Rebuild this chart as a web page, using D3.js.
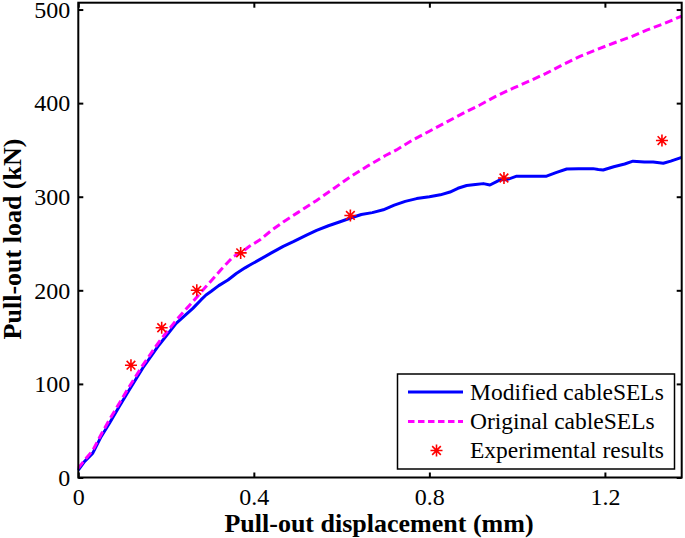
<!DOCTYPE html>
<html>
<head>
<meta charset="utf-8">
<script src="https://cdn.jsdelivr.net/npm/d3@7"></script>
<style>
  body { margin: 0; background: #fff; }
  svg { display: block; font-family: "Liberation Serif", "Times New Roman", "DejaVu Serif", serif; }
</style>
</head>
<body>
<div id="chart"></div>
<script>
// chart data
const modX = [0, 0.014, 0.033, 0.052, 0.071, 0.093, 0.116, 0.147, 0.184, 0.223, 0.261, 0.28, 0.291, 0.303, 0.32, 0.341, 0.36, 0.38, 0.391, 0.414, 0.44, 0.467, 0.49, 0.52, 0.543, 0.57, 0.595, 0.619, 0.645, 0.67, 0.695, 0.72, 0.745, 0.771, 0.80, 0.825, 0.847, 0.865, 0.885, 0.905, 0.923, 0.938, 0.961, 0.975, 0.999, 1.03, 1.067, 1.09, 1.113, 1.14, 1.173, 1.185, 1.196, 1.22, 1.245, 1.264, 1.29, 1.31, 1.333, 1.35, 1.375];
const modY = [8, 17, 26, 43.6, 58, 75.6, 93.5, 117, 141.6, 164.7, 180.7, 190, 195, 199, 205, 211, 218, 224, 227, 233, 240, 247, 252, 259, 264, 269, 273, 277, 281, 283, 286, 291, 295, 298, 300, 302, 305, 309, 312, 313, 314, 312.5, 318, 318, 322, 322, 322, 326, 329.6, 330, 330, 329, 328.5, 332, 335, 338, 337, 337, 335.7, 338, 342];

const origX = [0, 0.015, 0.033, 0.052, 0.07, 0.093, 0.116, 0.147, 0.184, 0.223, 0.261, 0.291, 0.325, 0.353, 0.37, 0.39, 0.414, 0.44, 0.467, 0.50, 0.543, 0.58, 0.619, 0.66, 0.70, 0.725, 0.76, 0.80, 0.84, 0.88, 0.915, 0.95, 0.991, 1.03, 1.067, 1.10, 1.143, 1.18, 1.219, 1.26, 1.295, 1.335, 1.375];
const origY = [10, 19, 29, 46, 61, 79, 97, 120, 145, 168, 188, 204, 222, 236, 240, 247, 254, 264, 273, 283, 296, 308, 321, 333, 344, 350, 360, 370, 380, 390, 398, 407, 416, 424, 432, 440, 450, 457, 464, 471, 478, 485, 493];

const expX = [0.12, 0.19, 0.27, 0.37, 0.62, 0.97, 1.33];
const expY = [120, 160, 200, 240, 280, 320, 360];

const xTicks = [0, 0.4, 0.8, 1.2];
const yTicks = [0, 100, 200, 300, 400, 500];
const seriesNames = ["Modified cableSELs", "Original cableSELs", "Experimental results"];

let width = 685, height = 538;
const plot = {left: 78.3, right: 681.7, top: 2.7, bottom: 477.5};
const serif = "'Liberation Serif', 'Times New Roman', 'DejaVu Serif', serif";

let svg = d3.select("#chart").append("svg")
    .attr("width", width)
    .attr("height", height);

let x = d3.scaleLinear().domain([0, 1.375]).range([plot.left, plot.right]);
let y = d3.scaleLinear().domain([0, 507.3]).range([plot.bottom, plot.top]);

let line = d3.line().x(d => x(d[0])).y(d => y(d[1]));

let modData = d3.zip(modX, modY);
let origData = d3.zip(origX, origY);
let expData = d3.zip(expX, expY);

// asterisk marker, like matlab '*'
function star(r) {
    let d = r * 0.72;
    return `M${-r},0L${r},0M0,${-r}L0,${r}M${-d},${-d}L${d},${d}M${-d},${d}L${d},${-d}`;
}

// curves
svg.append("path")
    .datum(modData)
    .attr("fill", "none")
    .attr("stroke", "#0000ff")
    .attr("stroke-width", 3)
    .attr("stroke-linejoin", "round")
    .attr("d", line);

svg.append("path")
    .datum(origData)
    .attr("fill", "none")
    .attr("stroke", "#ff00ff")
    .attr("stroke-width", 3)
    .attr("stroke-dasharray", "8,4")
    .attr("d", line);

svg.append("g").selectAll("path")
    .data(expData)
    .enter().append("path")
    .attr("transform", d => `translate(${x(d[0])},${y(d[1])})`)
    .attr("d", star(6))
    .attr("stroke", "#ff0000")
    .attr("stroke-width", 1.6)
    .attr("fill", "none");

// axes (inward ticks on all four sides, matlab box)
const tickLen = 5;
svg.append("g")
    .attr("transform", `translate(0,${plot.bottom})`)
    .call(d3.axisBottom(x).tickValues(xTicks).tickSize(-tickLen).tickPadding(10).tickFormat(d3.format("")))
    .call(g => g.select(".domain").remove());
svg.append("g")
    .attr("transform", `translate(0,${plot.top})`)
    .call(d3.axisTop(x).tickValues(xTicks).tickSize(-tickLen).tickFormat(""))
    .call(g => g.select(".domain").remove());
svg.append("g")
    .attr("transform", `translate(${plot.left},0)`)
    .call(d3.axisLeft(y).tickValues(yTicks).tickSize(-tickLen).tickPadding(8))
    .call(g => g.select(".domain").remove());
svg.append("g")
    .attr("transform", `translate(${plot.right},0)`)
    .call(d3.axisRight(y).tickValues(yTicks).tickSize(-tickLen).tickFormat(""))
    .call(g => g.select(".domain").remove());

svg.selectAll("g").attr("font-family", serif);
svg.selectAll(".tick line").attr("stroke", "#000").attr("stroke-width", 2);
svg.selectAll(".tick text")
    .attr("font-size", 24)
    .attr("fill", "#000");

svg.append("rect")
    .attr("x", plot.left)
    .attr("y", plot.top)
    .attr("width", plot.right - plot.left)
    .attr("height", plot.bottom - plot.top)
    .attr("fill", "none")
    .attr("stroke", "#000")
    .attr("stroke-width", 2);

// axis labels
svg.append("text")
    .attr("x", 379)
    .attr("y", 532)
    .style("text-anchor", "middle")
    .style("font-family", serif)
    .style("font-weight", "bold")
    .style("font-size", "26px")
    .text("Pull-out displacement (mm)");

svg.append("text")
    .attr("transform", "translate(21,239) rotate(-90)")
    .style("text-anchor", "middle")
    .style("font-family", serif)
    .style("font-weight", "bold")
    .style("font-size", "26px")
    .text("Pull-out load (kN)");

// legend
let legend = svg.append("g");
legend.append("rect")
    .attr("x", 397.5).attr("y", 374)
    .attr("width", 277).attr("height", 95)
    .attr("fill", "#fff")
    .attr("stroke", "#000")
    .attr("stroke-width", 1.5);

const rowY = [392, 421.5, 450.5];
legend.append("line")
    .attr("x1", 408).attr("x2", 463).attr("y1", rowY[0]).attr("y2", rowY[0])
    .attr("stroke", "#0000ff").attr("stroke-width", 3);
legend.append("line")
    .attr("x1", 408).attr("x2", 463).attr("y1", rowY[1]).attr("y2", rowY[1])
    .attr("stroke", "#ff00ff").attr("stroke-width", 3)
    .attr("stroke-dasharray", "6.5,3.5");
legend.append("path")
    .attr("transform", `translate(436.5,${rowY[2]})`)
    .attr("d", star(6))
    .attr("stroke", "#ff0000").attr("stroke-width", 1.6).attr("fill", "none");

legend.selectAll("text.lab")
    .data(seriesNames)
    .enter().append("text")
    .attr("class", "lab")
    .attr("x", 470)
    .attr("y", (d, i) => rowY[i])
    .attr("dy", "0.34em")
    .style("font-family", serif)
    .style("font-size", "23.5px")
    .text(d => d);
</script>
</body>
</html>
